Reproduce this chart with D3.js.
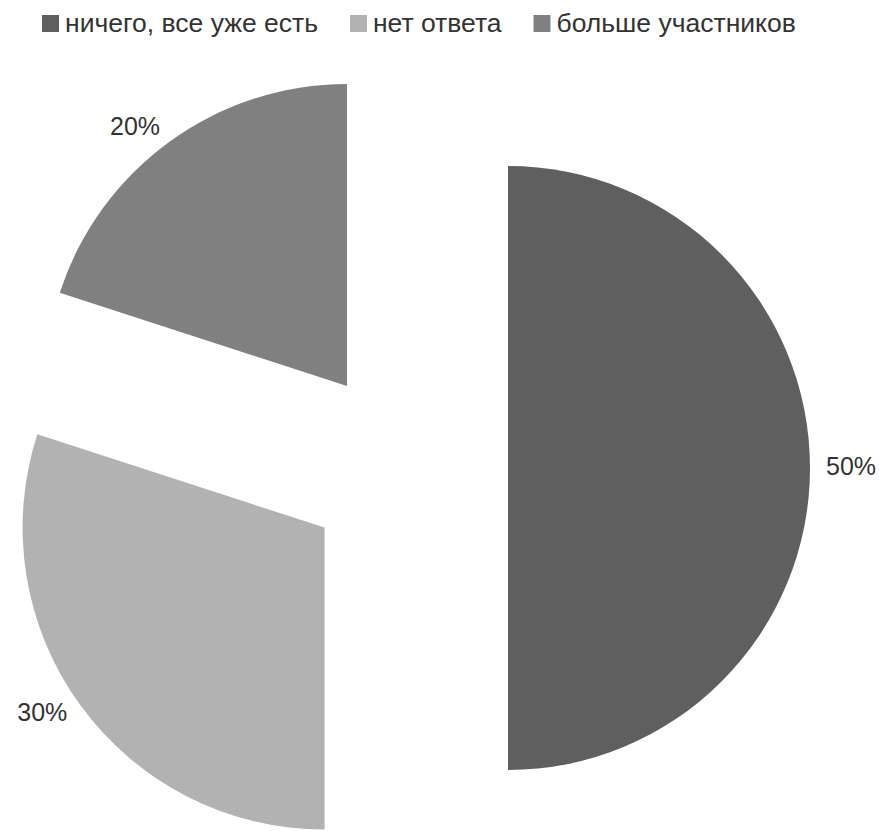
<!DOCTYPE html>
<html>
<head>
<meta charset="utf-8">
<script src="https://cdn.jsdelivr.net/npm/d3@7"></script>
<style>
  html, body { margin: 0; padding: 0; background: #fff; }
  text { font-family: "Liberation Sans", Arial, sans-serif; }
</style>
</head>
<body>
<svg id="chart" width="879" height="831"></svg>
<script>
const categories = ["ничего, все уже есть", "нет ответа", "больше участников"];
const values = [50, 30, 20];
const colors = ["#5f5f5f", "#b2b2b2", "#808080"];

const W = 879, H = 831;
const svg = d3.select("#chart");
const cx = 406.6, cy = 468, R = 302, explode = 101.4;

const pie = d3.pie().sort(null).value(d => d.v).startAngle(0).endAngle(2 * Math.PI);
const data = categories.map((c, i) => ({ c, v: values[i], col: colors[i] }));
const arcs = pie(data);
const arc = d3.arc().innerRadius(0).outerRadius(R);

const g = svg.append("g").attr("transform", `translate(${cx},${cy})`);

arcs.forEach(a => {
  const mid = (a.startAngle + a.endAngle) / 2;
  const dx = Math.sin(mid) * explode, dy = -Math.cos(mid) * explode;
  const sg = g.append("g").attr("transform", `translate(${dx},${dy})`);
  sg.append("path").attr("d", arc(a)).attr("fill", a.data.col);
  const lr = R + 16;
  const lx = Math.sin(mid) * lr, ly = -Math.cos(mid) * lr;
  sg.append("text")
    .attr("x", lx).attr("y", ly)
    .attr("text-anchor", lx >= 0 ? "start" : "end")
    .attr("dominant-baseline", "middle")
    .attr("font-size", 25)
    .attr("fill", "#333")
    .text(a.data.v + "%");
});

// Legend
const lg = svg.append("g");
let x = 42;
const sq = 17, baseline = 32;
data.forEach(d => {
  lg.append("rect").attr("x", x).attr("y", baseline - sq).attr("width", sq).attr("height", sq).attr("fill", d.col);
  const t = lg.append("text").attr("x", x + sq + 6).attr("y", baseline)
    .attr("font-size", 26.5).attr("fill", "#333").text(d.c);
  const w = t.node().getComputedTextLength();
  x += sq + 6 + w + 32;
});
</script>
</body>
</html>
